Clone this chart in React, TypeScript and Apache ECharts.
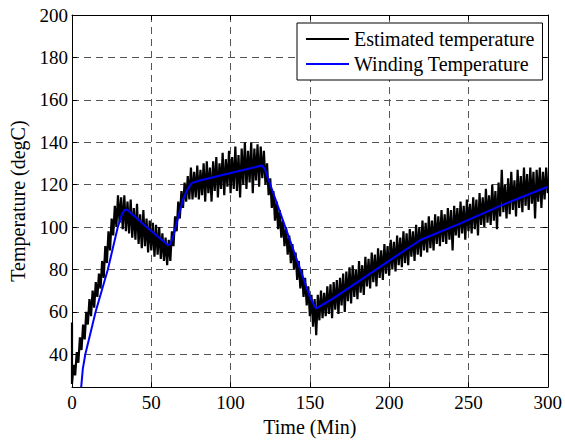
import React, { useEffect, useRef } from "react";
import * as echarts from "echarts";

// Time axis ticks and temperature ticks
const xTicks = [0, 50, 100, 150, 200, 250, 300];
const yMin = 24.5;
const yMax = 200;

const windingTime = [5.8, 6.8, 8.4, 14.9, 22.6, 28.9, 31.5, 33.5, 35, 47, 60.5, 62, 64, 66, 70, 73, 75.5, 80, 100, 119.7, 121.5, 139.1, 149.6, 153.8, 165, 180, 202.9, 220, 242.7, 270, 300];
const windingTemp = [24.5, 33, 40, 60, 80, 100, 106, 108.3, 108, 100, 91.5, 92, 96, 102, 113, 118, 120.7, 121.8, 125.5, 129, 127.5, 90.3, 67.8, 61.5, 66.5, 74, 85.6, 94, 101, 110, 119];

// Estimated temperature, one reading per minute from t = 0 to t = 300
const estInitial = 55; // initial transient at t = 0
const estTemp = [
  26, 35, 30, 41, 36, 48, 42, 54, 47, 60,
  54, 66, 58, 70, 62, 74, 67, 78, 71, 84,
  76, 91, 83, 98, 89, 104, 96, 110, 100, 115,
  102, 114, 99, 115, 98, 112, 97, 113, 95, 109,
  94, 111, 92, 106, 90, 108, 91, 104, 88, 103,
  89, 102, 86, 101, 87, 100, 85, 97, 84, 95,
  82, 94, 84, 98, 91, 105, 98, 112, 104, 117,
  109, 121, 112, 124, 113, 128, 113, 126, 114, 129,
  113, 127, 115, 130, 112, 131, 116, 128, 112, 131,
  117, 133, 114, 130, 118, 135, 115, 132, 119, 136,
  116, 133, 118, 138, 117, 134, 114, 137, 120, 140,
  118, 136, 121, 140, 116, 137, 122, 139, 119, 138,
  123, 136, 120, 130, 115, 123, 109, 117, 103, 112,
  99, 108, 95, 103, 91, 100, 87, 96, 83, 92,
  80, 88, 75, 84, 71, 80, 67, 76, 63, 72,
  58, 68, 53, 66, 49, 68, 56, 70, 57, 69,
  58, 72, 59, 73, 57, 74, 61, 75, 59, 76,
  63, 78, 60, 79, 65, 81, 64, 82, 67, 80,
  66, 84, 69, 82, 68, 86, 72, 85, 71, 88,
  74, 87, 72, 90, 76, 89, 75, 92, 78, 91,
  77, 94, 80, 93, 79, 96, 82, 95, 81, 98,
  83, 97, 82, 99, 86, 98, 84, 101, 87, 100,
  86, 103, 89, 102, 88, 105, 90, 103, 89, 106,
  92, 105, 91, 108, 93, 106, 92, 109, 94, 108,
  89, 110, 96, 109, 95, 112, 97, 110, 94, 113,
  98, 111, 97, 114, 99, 113, 96, 116, 101, 114,
  100, 118, 102, 115, 101, 120, 103, 117, 99, 121,
  105, 127, 107, 120, 104, 123, 106, 126, 108, 122,
  105, 127, 109, 124, 107, 128, 110, 125, 108, 128,
  111, 126, 104, 127, 112, 128, 109, 126, 113, 128,
  116,
];

const FONT = "Liberation Serif, Times New Roman, serif";

export default function App() {
  const ref = useRef<HTMLDivElement>(null);
  useEffect(() => {
    if (!ref.current) return;
    const chart = echarts.init(ref.current, null, { renderer: "svg" });
    const estData: [number, number][] = [[0, estInitial]];
    estTemp.forEach((v, i) => estData.push([i, v]));
    const windData = windingTime.map((t, i) => [t, windingTemp[i]]);
    const gridLine = { show: true, lineStyle: { color: "#555", width: 1, type: [7, 5] as any } };
    const tickIn = { show: true, inside: true, length: 5, lineStyle: { color: "#000" } };
    chart.setOption({
      animation: false,
      backgroundColor: "#fff",
      grid: { left: 70, right: 17, top: 15, bottom: 51, containLabel: false },
      legend: {
        show: true,
        orient: "vertical",
        left: 297,
        top: 23,
        padding: [5, 8, 5, 9],
        itemGap: 3,
        itemWidth: 43,
        itemHeight: 2,
        icon: "rect",
        borderColor: "#000",
        borderWidth: 1,
        backgroundColor: "#fff",
        textStyle: { fontFamily: FONT, fontSize: 20, color: "#000", lineHeight: 22 },
        data: ["Estimated temperature", "Winding Temperature"],
      },
      xAxis: [
        {
          type: "value",
          min: xTicks[0],
          max: xTicks[xTicks.length - 1],
          interval: 50,
          name: "Time (Min)",
          nameLocation: "middle",
          nameGap: 27,
          nameTextStyle: { fontFamily: FONT, fontSize: 20, color: "#000" },
          axisLine: { show: true, onZero: false, lineStyle: { color: "#000", width: 1 } },
          axisTick: tickIn,
          axisLabel: { fontFamily: FONT, fontSize: 19, color: "#000", margin: 6 },
          splitLine: gridLine,
        },
        {
          type: "value",
          position: "top",
          min: xTicks[0],
          max: xTicks[xTicks.length - 1],
          interval: 50,
          axisLine: { show: true, onZero: false, lineStyle: { color: "#000", width: 1 } },
          axisTick: tickIn,
          axisLabel: { show: false },
          splitLine: { show: false },
        },
      ],
      yAxis: [
        {
          type: "value",
          min: yMin,
          max: yMax,
          splitNumber: 9,
          minInterval: 20,
          maxInterval: 20,
          name: "Temperature (degC)",
          nameLocation: "middle",
          nameGap: 44,
          nameTextStyle: { fontFamily: FONT, fontSize: 20, color: "#000" },
          axisLine: { show: true, onZero: false, lineStyle: { color: "#000", width: 1 } },
          axisTick: tickIn,
          axisLabel: {
            fontFamily: FONT,
            fontSize: 19,
            color: "#000",
            margin: 4,
            showMinLabel: false,
            formatter: (v: number) => (v % 20 === 0 ? String(v) : ""),
          },
          splitLine: gridLine,
        },
        {
          type: "value",
          position: "right",
          min: yMin,
          max: yMax,
          splitNumber: 9,
          minInterval: 20,
          maxInterval: 20,
          axisLine: { show: true, onZero: false, lineStyle: { color: "#000", width: 1 } },
          axisTick: tickIn,
          axisLabel: { show: false },
          splitLine: { show: false },
        },
      ],
      series: [
        {
          name: "Estimated temperature",
          type: "line",
          data: estData,
          showSymbol: false,
          symbol: "none",
          clip: true,
          itemStyle: { color: "#000" },
          lineStyle: { color: "#000", width: 2.2, join: "miter" },
        },
        {
          name: "Winding Temperature",
          type: "line",
          data: windData,
          showSymbol: false,
          symbol: "none",
          clip: true,
          itemStyle: { color: "#0000ff" },
          lineStyle: { color: "#0000ff", width: 2 },
        },
      ],
    });
    return () => chart.dispose();
  }, []);
  return <div ref={ref} style={{ width: 565, height: 442, position: "absolute", left: 0, top: 0 }} />;
}
